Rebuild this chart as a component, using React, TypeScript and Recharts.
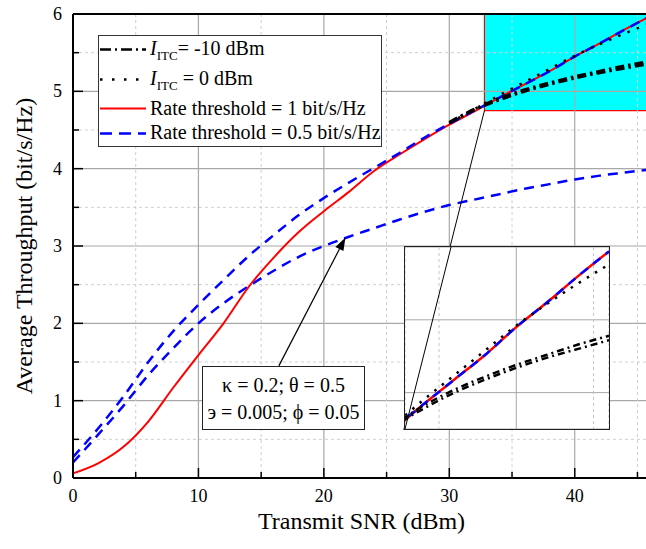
import React from "react";
import {
  LineChart,
  Line,
  XAxis,
  YAxis,
  CartesianGrid,
  ReferenceArea,
  ReferenceLine,
  Legend,
} from "recharts";

const FONT = '"Liberation Serif", "Times New Roman", Tinos, "Nimbus Roman", "DejaVu Serif", serif';

// transmit SNR (dBm)
const SNR = [0, 2, 4, 6, 8, 10, 12, 14, 16, 18, 20, 22, 24, 26, 28, 30, 32, 34, 36, 38, 40, 42, 44, 46];

// rate threshold = 1 bit/s/Hz
const RATE_1 = [0.06, 0.19, 0.4, 0.73, 1.17, 1.59, 2.0, 2.47, 2.85, 3.18, 3.45, 3.7, 3.97, 4.18, 4.38, 4.57, 4.74, 4.92, 5.09, 5.26, 5.45, 5.62, 5.8, 5.97];
// rate threshold = 0.5 bit/s/Hz (two curves)
const RATE_05_HI = [0.27, 0.64, 1.05, 1.5, 1.9, 2.24, 2.56, 2.87, 3.14, 3.4, 3.62, 3.82, 4.01, 4.2, 4.4, 4.58, 4.75, 4.92, 5.09, 5.26, 5.45, 5.62, 5.8, 5.97];
const RATE_05_LO = [0.2, 0.56, 0.93, 1.33, 1.68, 2.0, 2.26, 2.48, 2.68, 2.86, 3.0, 3.12, 3.23, 3.34, 3.44, 3.53, 3.6, 3.67, 3.74, 3.8, 3.86, 3.91, 3.95, 3.99];
// I_ITC = -10 dBm (two curves) and I_ITC = 0 dBm
const N = null;
const ITC_M10_A = [N, N, N, N, N, N, N, N, N, N, N, N, N, N, N, 4.6, 4.77, 4.91, 5.02, 5.11, 5.19, 5.26, 5.33, 5.39];
const ITC_M10_B = [N, N, N, N, N, N, N, N, N, N, N, N, N, N, N, 4.59, 4.76, 4.89, 5.0, 5.09, 5.17, 5.24, 5.3, 5.36];
const ITC_0 = [N, N, N, N, N, N, N, N, N, N, N, N, N, N, N, 4.59, 4.77, 4.95, 5.12, 5.29, 5.46, 5.61, 5.75, 5.88];

const X_TICKS = [0, 5, 10, 15, 20, 25, 30, 35, 40, 45];
const Y_TICKS = [0, 0.5, 1, 1.5, 2, 2.5, 3, 3.5, 4, 4.5, 5, 5.5, 6];
const INSET_X_TICKS = [35, 40, 45];
const INSET_Y_TICKS = [5, 5.5];

const data = SNR.map((snr, i) => ({
  snr,
  rate1: RATE_1[i],
  hi: RATE_05_HI[i],
  lo: RATE_05_LO[i],
  itcA: ITC_M10_A[i],
  itcB: ITC_M10_B[i],
  itc0: ITC_0[i],
}));

const XTick = (props: any) => {
  const { x, y, payload } = props;
  const major = payload.value % 10 === 0;
  return (
    <g>
      <line x1={x} x2={x} y1={y} y2={y - (major ? 10 : 6)} stroke="#000" strokeWidth={1.5} />
      {major && (
        <text x={x} y={y + 24} textAnchor="middle" fontSize={18} fontFamily={FONT} fill="#000">
          {payload.value}
        </text>
      )}
    </g>
  );
};

const YTick = (props: any) => {
  const { x, y, payload } = props;
  const major = Number.isInteger(payload.value);
  return (
    <g>
      <line x1={x} x2={x + (major ? 10 : 6)} y1={y} y2={y} stroke="#000" strokeWidth={1.5} />
      {major && (
        <text x={x - 11} y={y + 6} textAnchor="end" fontSize={18} fontFamily={FONT} fill="#000">
          {payload.value}
        </text>
      )}
    </g>
  );
};

const gridLine = (p: any) => {
  const major = p.index % 2 === 0;
  return (
    <line
      key={`g-${p.x1}-${p.y1}`}
      x1={p.x1}
      y1={p.y1}
      x2={p.x2}
      y2={p.y2}
      stroke={major ? "#a8a8a8" : "#cfcfcf"}
      strokeWidth={major ? 1.2 : 1}
      strokeDasharray={major ? undefined : "3 3"}
    />
  );
};

const insetGridLine = (p: any) => {
  const solid = p.solid;
  return (
    <line
      key={`ig-${p.x1}-${p.y1}`}
      x1={p.x1}
      y1={p.y1}
      x2={p.x2}
      y2={p.y2}
      stroke={solid ? "#a8a8a8" : "#c4c4c4"}
      strokeWidth={1}
      strokeDasharray={solid ? undefined : "3 3"}
    />
  );
};

const Arrow = (p: any) => {
  const { x1, y1, x2, y2 } = p;
  const a = Math.atan2(y2 - y1, x2 - x1);
  const L = 13;
  const W = 4.5;
  const bx = x2 - L * Math.cos(a);
  const by = y2 - L * Math.sin(a);
  const pts = `${x2},${y2} ${bx + W * Math.sin(a)},${by - W * Math.cos(a)} ${bx - W * Math.sin(a)},${by + W * Math.cos(a)}`;
  return (
    <g>
      <line x1={x1} y1={y1} x2={bx} y2={by} stroke="#000" strokeWidth={1.2} />
      <polygon points={pts} fill="#000" />
    </g>
  );
};

const LegendBox = () => (
  <svg width={284} height={112} style={{ display: "block" }}>
    <rect x={0.5} y={0.5} width={283} height={111} fill="#fff" stroke="#333" strokeWidth={1} />
    <line x1={2} x2={48} y1={14.5} y2={14.5} stroke="#000" strokeWidth={2.5} strokeDasharray="11 4 2 4" />
    <line x1={2} x2={48} y1={44.5} y2={44.5} stroke="#000" strokeWidth={2.5} strokeDasharray="2.5 9.5" />
    <line x1={2} x2={48} y1={73.5} y2={73.5} stroke="#FF0000" strokeWidth={2} />
    <line x1={2} x2={48} y1={98.5} y2={98.5} stroke="#0000FF" strokeWidth={2.5} strokeDasharray="12 7" />
    <g fontFamily={FONT} fontSize={20} fill="#000" style={{ whiteSpace: "pre" }}>
      <text x={52} y={20}>
        <tspan fontStyle="italic">I</tspan>
        <tspan fontSize={13} dy={5}>ITC</tspan>
        <tspan dy={-5}>= -10 dBm</tspan>
      </text>
      <text x={52} y={50}>
        <tspan fontStyle="italic">I</tspan>
        <tspan fontSize={13} dy={5}>ITC</tspan>
        <tspan dy={-5}> = 0 dBm</tspan>
      </text>
      <text x={52} y={80}>Rate threshold = 1 bit/s/Hz</text>
      <text x={52} y={104}>Rate threshold = 0.5 bit/s/Hz</text>
    </g>
  </svg>
);

export default function App() {
  return (
    <div
      style={{
        position: "absolute",
        left: 0,
        top: 0,
        width: 646,
        height: 549,
        overflow: "hidden",
        background: "#fff",
        fontFamily: FONT,
      }}
    >
      <LineChart width={660} height={549} data={data} margin={{ top: 14, right: 10, bottom: 0, left: 13 }}>
        <ReferenceArea
          x1={32.8}
          x2={46}
          y1={4.75}
          y2={6}
          fill="#00FFFF"
          fillOpacity={1}
          stroke="#FF0000"
          strokeWidth={1.2}
          zIndex={-150}
        />
        <CartesianGrid vertical={gridLine} horizontal={gridLine} />
        <XAxis
          type="number"
          dataKey="snr"
          domain={[0, 46]}
          ticks={X_TICKS}
          tick={<XTick />}
          tickLine={false}
          tickSize={0}
          tickMargin={0}
          height={71}
          axisLine={{ stroke: "#000", strokeWidth: 2 }}
          label={{ value: "Transmit SNR (dBm)", position: "insideBottom", offset: 20, fontSize: 24, fill: "#000", fontFamily: FONT }}
        />
        <YAxis
          type="number"
          domain={[0, 6]}
          ticks={Y_TICKS}
          tick={<YTick />}
          tickLine={false}
          tickSize={0}
          tickMargin={0}
          width={60}
          axisLine={{ stroke: "#000", strokeWidth: 2 }}
          label={{
            value: "Average Throughput (bit/s/Hz)",
            angle: -90,
            position: "insideLeft",
            offset: 10,
            fontSize: 24,
            fill: "#000",
            fontFamily: FONT,
            style: { textAnchor: "middle" },
          }}
        />
        <ReferenceLine y={6} stroke="#000" strokeWidth={2} />
        <Line type="monotone" dataKey="lo" stroke="#0000FF" strokeWidth={2.5} strokeDasharray="10 7" dot={false} isAnimationActive={false} />
        <Line type="monotone" dataKey="rate1" stroke="#FF0000" strokeWidth={2} dot={false} isAnimationActive={false} />
        <Line type="monotone" dataKey="hi" stroke="#0000FF" strokeWidth={2.5} strokeDasharray="10 7" dot={false} isAnimationActive={false} />
        <Line type="monotone" dataKey="itcA" stroke="#000" strokeWidth={3} strokeDasharray="9 4 2.5 4" dot={false} isAnimationActive={false} />
        <Line type="monotone" dataKey="itcB" stroke="#000" strokeWidth={3} strokeDasharray="9 4 2.5 4" dot={false} isAnimationActive={false} />
        <Line type="monotone" dataKey="itc0" stroke="#000" strokeWidth={2.5} strokeDasharray="2.5 7.5" dot={false} isAnimationActive={false} />
        <ReferenceLine
          segment={[
            { x: 32.8, y: 4.75 },
            { x: 26.37, y: 0.62 },
          ]}
          stroke="#000"
          strokeWidth={1}
        />
        <ReferenceLine
          segment={[
            { x: 16.41, y: 1.45 },
            { x: 21.72, y: 3.11 },
          ]}
          shape={Arrow}
        />
        <Legend
          verticalAlign="middle"
          layout="horizontal"
          content={() => <LegendBox />}
          wrapperStyle={{ left: 98, top: 35, width: 284, height: 112 }}
        />
      </LineChart>

      <div
        style={{
          position: "absolute",
          left: 404,
          top: 246,
          width: 206,
          height: 184,
          boxSizing: "border-box",
          border: "1px solid #222",
          background: "#fff",
        }}
      >
        <LineChart width={204} height={182} data={data} margin={{ top: 0, right: 0, bottom: 0, left: 0 }}>
          <CartesianGrid
            vertical={(p: any) => insetGridLine({ ...p, solid: p.index === 1 })}
            horizontal={(p: any) => insetGridLine({ ...p, solid: true })}
          />
          <XAxis type="number" dataKey="snr" domain={[32.8, 46]} ticks={INSET_X_TICKS} allowDataOverflow hide />
          <YAxis type="number" domain={[4.75, 6]} ticks={INSET_Y_TICKS} allowDataOverflow hide />
          <Line type="monotone" dataKey="rate1" stroke="#FF0000" strokeWidth={2.5} dot={false} isAnimationActive={false} />
          <Line type="monotone" dataKey="hi" stroke="#0000FF" strokeWidth={2.5} strokeDasharray="9 7" dot={false} isAnimationActive={false} />
          <Line type="monotone" dataKey="itcA" stroke="#000" strokeWidth={2.5} strokeDasharray="7 4 2 4" dot={false} isAnimationActive={false} />
          <Line type="monotone" dataKey="itcB" stroke="#000" strokeWidth={2.5} strokeDasharray="7 4 2 4" dot={false} isAnimationActive={false} />
          <Line type="monotone" dataKey="itc0" stroke="#000" strokeWidth={2.5} strokeDasharray="2.5 7" dot={false} isAnimationActive={false} />
          <ReferenceLine
            segment={[
              { x: 32.8, y: 4.75 },
              { x: 35.78, y: 6 },
            ]}
            stroke="#000"
            strokeWidth={1}
          />
        </LineChart>
      </div>

      <div
        style={{
          position: "absolute",
          left: 202,
          top: 366,
          width: 163,
          height: 64,
          boxSizing: "border-box",
          border: "1px solid #222",
          background: "#fff",
          paddingTop: 5,
          textAlign: "center",
          fontSize: 20,
          lineHeight: "26.6px",
          color: "#000",
        }}
      >
        <div>κ = 0.2; θ = 0.5</div>
        <div>э = 0.005; ϕ = 0.05</div>
      </div>
    </div>
  );
}
